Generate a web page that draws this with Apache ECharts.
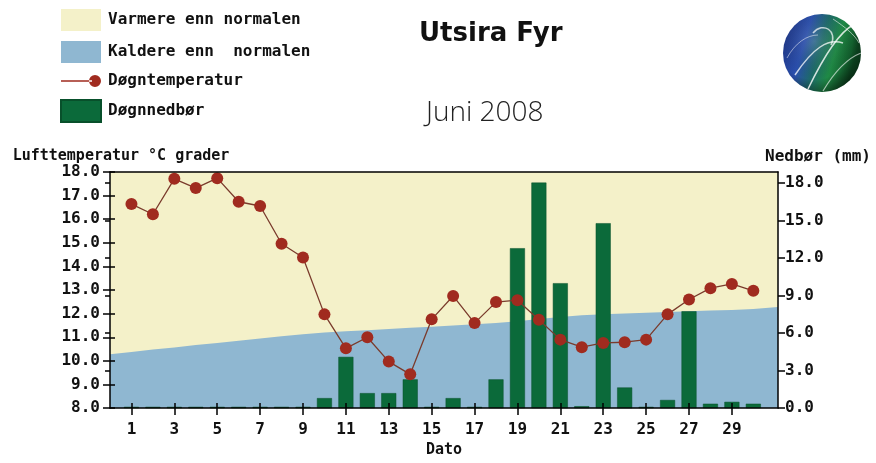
<!DOCTYPE html>
<html>
<head>
<meta charset="utf-8">
<script src="https://cdn.jsdelivr.net/npm/echarts@6/dist/echarts.min.js"></script>
<style>
html,body{margin:0;padding:0;background:#fff;}
#chart{width:876px;height:463px;}
</style>
</head>
<body>
<div id="chart"></div>
<script>
// ---- data ----
const days = [1,2,3,4,5,6,7,8,9,10,11,12,13,14,15,16,17,18,19,20,21,22,23,24,25,26,27,28,29,30];
const temperature = [16.64,16.21,17.71,17.32,17.74,16.74,16.56,14.96,14.38,11.97,10.53,11.0,9.97,9.43,11.76,12.75,11.6,12.49,12.57,11.74,10.9,10.58,10.76,10.79,10.9,11.97,12.6,13.08,13.26,12.97];
const precipitation = [0.1,0.1,0.1,0.1,0.1,0.1,0.1,0.1,0.1,0.8,4.1,1.2,1.2,2.3,0.1,0.8,0.1,2.3,12.8,18.05,10.0,0.15,14.8,1.65,0.1,0.65,7.75,0.35,0.5,0.35];
const normalDays = [0,1,2,3,4,5,6,7,8,9,10,11,12,13,14,15,16,17,18,19,20,21,22,23,24,25,26,27,28,29,30,31,31.15];
const normalTemp = [10.28,10.38,10.48,10.57,10.67,10.76,10.85,10.95,11.04,11.13,11.2,11.25,11.3,11.35,11.4,11.45,11.5,11.55,11.6,11.68,11.77,11.86,11.93,11.98,12.01,12.04,12.07,12.1,12.13,12.16,12.2,12.27,12.28];
const xTickLabels = [1,3,5,7,9,11,13,15,17,19,21,23,25,27,29];
const tempTicks = [8,9,10,11,12,13,14,15,16,17,18];
const precTicks = [0,3,6,9,12,15,18];

const X_MAX = 31.15, T_MIN = 8, T_MAX = 18, P_MAX = 18.9;
const monoFont = 'DejaVu Sans Mono';

const chart = echarts.init(document.getElementById('chart'), null, {renderer:'canvas'});

const grid = {left:110, right:98, top:172, bottom:50, containLabel:false};

const xBase = {type:'value', min:0, max:X_MAX, gridIndex:0, splitLine:{show:false}};
const tick = (vals, inside) => ({show:true, inside:inside, length:inside?5:7, customValues:vals, lineStyle:{color:'#000', width:1.5}});
const hiddenLabels = vals => ({show:true, customValues:vals, formatter:()=>'', color:'rgba(0,0,0,0)'});

const option = {
  animation:false,
  backgroundColor:'#ffffff',
  title:[
    {text:'Utsira Fyr', left:414, top:16, textStyle:{fontFamily:'DejaVu Sans', fontWeight:'bold', fontSize:26, color:'#111'}},
    {text:'Juni 2008', left:421, top:94, textStyle:{fontFamily:'Open Sans', fontWeight:300, fontSize:28, color:'#222'}}
  ],
  legend:{
    orient:'vertical', left:60, top:9, padding:0, itemWidth:40, itemHeight:22, itemGap:10,
    textStyle:{fontFamily:monoFont, fontSize:16, fontWeight:'bold', color:'#111', padding:[0,0,0,2]},
    selectedMode:false,
    data:[
      {name:'Varmere enn normalen', icon:'rect'},
      {name:'Kaldere enn  normalen', icon:'rect'},
      {name:'Døgntemperatur', icon:'path://M0,9.2 L31,9.2 L31,10.8 L0,10.8 Z M34,10 m-6,0 a6,6 0 1,0 12,0 a6,6 0 1,0 -12,0 Z'},
      {name:'Døgnnedbør', icon:'rect'}
    ]
  },
  grid:grid,
  xAxis:[
    Object.assign({}, xBase, {
      position:'bottom', z:5,
      name:'Dato', nameLocation:'middle', nameGap:31,
      nameTextStyle:{fontFamily:monoFont, fontSize:15, fontWeight:'bold', color:'#111'},
      axisLine:{show:true, onZero:false, lineStyle:{color:'#000', width:1.5}},
      axisTick:tick(xTickLabels,false),
      axisLabel:{show:true, customValues:xTickLabels, margin:14, fontFamily:monoFont, fontSize:16, fontWeight:'bold', color:'#111'}
    }),
    Object.assign({}, xBase, {
      position:'bottom', z:5,
      axisLine:{show:false}, axisLabel:hiddenLabels(xTickLabels),
      axisTick:tick(xTickLabels,true)
    }),
    Object.assign({}, xBase, {
      position:'top', z:5,
      axisLine:{show:true, onZero:false, lineStyle:{color:'#000', width:1.5}},
      axisTick:{show:false}, axisLabel:{show:false}
    })
  ],
  yAxis:[
    {type:'value', min:T_MIN, max:T_MAX, position:'left', z:5,
     name:'Lufttemperatur °C grader', nameLocation:'end', nameGap:7,
     nameTextStyle:{fontFamily:monoFont, fontSize:15, fontWeight:'bold', color:'#111', padding:[0,0,0,22]},
     splitLine:{show:false},
     axisLine:{show:true, onZero:false, lineStyle:{color:'#000', width:1.5}},
     axisTick:tick(tempTicks,false),
     axisLabel:{customValues:tempTicks, margin:10, fontFamily:monoFont, fontSize:16, fontWeight:'bold', color:'#111', formatter:v=>v.toFixed(1)}},
    {type:'value', min:0, max:P_MAX, position:'right', z:5,
     name:'Nedbør (mm)', nameLocation:'end', nameGap:7,
     nameTextStyle:{fontFamily:monoFont, fontSize:16, fontWeight:'bold', color:'#111', padding:[0,0,0,80]},
     splitLine:{show:false},
     axisLine:{show:true, onZero:false, lineStyle:{color:'#000', width:1.5}},
     axisTick:tick(precTicks,false),
     axisLabel:{customValues:precTicks, margin:7, fontFamily:monoFont, fontSize:16, fontWeight:'bold', color:'#111', formatter:v=>v.toFixed(1)}},
    {type:'value', min:T_MIN, max:T_MAX, interval:1, position:'left', z:5, splitLine:{show:false},
     axisLine:{show:false}, axisLabel:hiddenLabels(tempTicks), axisTick:tick(tempTicks,true)},
    {type:'value', min:0, max:P_MAX, interval:3, position:'right', z:5, splitLine:{show:false},
     axisLine:{show:false}, axisLabel:hiddenLabels(precTicks), axisTick:tick(precTicks,true)}
  ],
  series:[
    {name:'Varmere enn normalen', type:'line', xAxisIndex:0, yAxisIndex:0,
     data:normalDays.map(d=>[d,T_MAX]), symbol:'none', color:'#f4f1c9',
     lineStyle:{width:0}, areaStyle:{color:'#f4f1c9', opacity:1, origin:'start'}, silent:true, z:1},
    {name:'Kaldere enn  normalen', type:'line', xAxisIndex:0, yAxisIndex:0,
     data:normalDays.map((d,i)=>[d,normalTemp[i]]), symbol:'none', color:'#8fb7d1',
     lineStyle:{width:0}, areaStyle:{color:'#8fb7d1', opacity:1, origin:'start'}, silent:true, z:1},
    {name:'Døgnnedbør', type:'bar', xAxisIndex:0, yAxisIndex:1,
     data:days.map((d,i)=>[d,precipitation[i]]), barWidth:15, color:'#0b6a3a',
     itemStyle:{color:'#0b6a3a', borderColor:'#08502b', borderWidth:0.5}, z:2},
    {name:'Døgntemperatur', type:'line', xAxisIndex:0, yAxisIndex:0,
     data:days.map((d,i)=>[d,temperature[i]]), symbol:'circle', symbolSize:12, color:'#a02b1f',
     lineStyle:{color:'#7a3b2c', width:1.3}, itemStyle:{color:'#a02b1f'}, z:3}
  ],
  graphic:[
    {type:'group', left:783, top:14, children:[
      {type:'circle', shape:{cx:39, cy:40, r:39},
       style:{fill:new echarts.graphic.LinearGradient(0,0,1,0.3,[
         {offset:0,color:'#1b2f7a'},{offset:0.35,color:'#2a4fae'},{offset:0.55,color:'#1d6a6a'},{offset:0.75,color:'#1f8a45'},{offset:1,color:'#0d4a22'}])}},
      {type:'circle', shape:{cx:39, cy:40, r:39},
       style:{fill:new echarts.graphic.RadialGradient(0.4,0.35,0.7,[
         {offset:0,color:'rgba(255,255,255,0.15)'},{offset:0.7,color:'rgba(0,0,0,0)'},{offset:1,color:'rgba(0,0,0,0.45)'}])}},
      {type:'bezierCurve', shape:{x1:12,y1:62,x2:60,y2:30,cpx1:30,cpy1:35,cpx2:45,cpy2:25}, style:{stroke:'rgba(255,255,255,0.75)', lineWidth:1.5, fill:null}},
      {type:'bezierCurve', shape:{x1:25,y1:76,x2:70,y2:12,cpx1:40,cpy1:45,cpx2:55,cpy2:20}, style:{stroke:'rgba(255,255,255,0.8)', lineWidth:1.5, fill:null}},
      {type:'bezierCurve', shape:{x1:40,y1:78,x2:78,y2:40,cpx1:52,cpy1:58,cpx2:65,cpy2:45}, style:{stroke:'rgba(255,255,255,0.6)', lineWidth:1.2, fill:null}},
      {type:'bezierCurve', shape:{x1:30,y1:20,x2:48,y2:32,cpx1:40,cpy1:8,cpx2:55,cpy2:18}, style:{stroke:'rgba(255,255,255,0.7)', lineWidth:1.5, fill:null}},
      {type:'bezierCurve', shape:{x1:4,y1:45,x2:35,y2:22,cpx1:12,cpy1:30,cpx2:24,cpy2:22}, style:{stroke:'rgba(255,255,255,0.5)', lineWidth:1, fill:null}},
      {type:'bezierCurve', shape:{x1:50,y1:6,x2:76,y2:30,cpx1:62,cpy1:14,cpx2:72,cpy2:22}, style:{stroke:'rgba(255,255,255,0.55)', lineWidth:1, fill:null}}
    ]}
  ]
};
chart.setOption(option);
</script>
</body>
</html>
